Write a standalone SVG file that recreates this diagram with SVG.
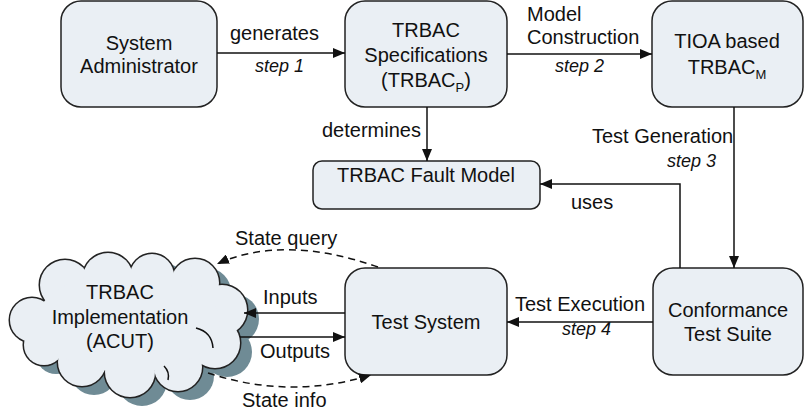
<svg xmlns="http://www.w3.org/2000/svg" width="805" height="415" viewBox="0 0 805 415">
<style>
.box{fill:#eaeff4;stroke:#222;stroke-width:1.5}
.t{font-family:"Liberation Sans",Arial,sans-serif;font-size:20px;fill:#111}
.s{font-family:"Liberation Sans",Arial,sans-serif;font-size:18px;font-style:italic;fill:#111}
.m{text-anchor:middle}
.ln{fill:none;stroke:#111;stroke-width:1.5}
.dash{fill:none;stroke:#111;stroke-width:1.5;stroke-dasharray:7,5}
.cs{fill:none;stroke:#222;stroke-width:3}
.cf{fill:#eaeff4}
.sh{fill:#6f8b95}
</style>
<defs>
<marker id="ah" viewBox="0 0 12 10" refX="12" refY="5" markerWidth="12" markerHeight="10" markerUnits="userSpaceOnUse" orient="auto">
<path d="M0,0 L12,5 L0,10 z" fill="#111"/>
</marker>
<g id="lobes">
<circle cx="32" cy="320" r="22"/>
<circle cx="65" cy="285" r="25"/>
<circle cx="108" cy="278" r="25"/>
<circle cx="152" cy="276" r="22"/>
<circle cx="195" cy="283" r="24"/>
<circle cx="222" cy="310" r="25"/>
<circle cx="215" cy="343" r="25"/>
<circle cx="178" cy="367" r="24"/>
<circle cx="130" cy="372" r="25"/>
<circle cx="82" cy="362" r="24"/>
<circle cx="44" cy="345" r="20"/>
<ellipse cx="128" cy="322" rx="92" ry="50"/>
</g>
</defs>

<g id="cloud">
<use href="#lobes" class="sh" transform="translate(12,9)"/>
<use href="#lobes" class="cs"/>
<use href="#lobes" class="cf"/>
<path class="ln" d="M196,328 Q212,332 213,348 M164,366 Q170,372 168,380" stroke-width="1.2"/>
<text class="t m" x="120" y="299">TRBAC</text>
<text class="t m" x="120" y="324">Implementation</text>
<text class="t m" x="120" y="348">(ACUT)</text>
</g>

<g id="sysadmin">
<rect class="box" x="61" y="1" width="156" height="106" rx="20"/>
<text class="t m" x="139" y="50">System</text>
<text class="t m" x="139" y="73">Administrator</text>
</g>

<g id="spec">
<rect class="box" x="345" y="1" width="162" height="106" rx="20"/>
<text class="t m" x="426" y="37">TRBAC</text>
<text class="t m" x="426" y="62">Specifications</text>
<text class="t m" x="426" y="87">(TRBAC<tspan font-size="13" dy="5">P</tspan><tspan dy="-5">)</tspan></text>
</g>

<g id="tioa">
<rect class="box" x="652" y="1" width="151" height="106" rx="20"/>
<text class="t m" x="727" y="48">TIOA based</text>
<text class="t m" x="727" y="74">TRBAC<tspan font-size="13" dy="5">M</tspan></text>
</g>

<g id="faultmodel">
<rect class="box" x="313" y="161" width="227" height="48" rx="9"/>
<text class="t m" x="426" y="182">TRBAC Fault Model</text>
</g>

<g id="conformance">
<rect class="box" x="653" y="268" width="150" height="107" rx="20"/>
<text class="t m" x="728" y="317">Conformance</text>
<text class="t m" x="728" y="341">Test Suite</text>
</g>

<g id="testsystem">
<rect class="box" x="345" y="268" width="162" height="107" rx="20"/>
<text class="t m" x="426" y="329">Test System</text>
</g>

<g id="connectors">
<line class="ln" x1="217" y1="53" x2="345" y2="53" marker-end="url(#ah)"/>
<line class="ln" x1="507" y1="54" x2="652" y2="54" marker-end="url(#ah)"/>
<line class="ln" x1="427" y1="107" x2="427" y2="161" marker-end="url(#ah)"/>
<line class="ln" x1="734" y1="107" x2="734" y2="268" marker-end="url(#ah)"/>
<polyline class="ln" points="680,268 680,184 540,184" marker-end="url(#ah)"/>
<line class="ln" x1="653" y1="322" x2="507" y2="322" marker-end="url(#ah)"/>
<line class="ln" x1="345" y1="313" x2="244" y2="313" marker-end="url(#ah)"/>
<line class="ln" x1="240" y1="337" x2="345" y2="337" marker-end="url(#ah)"/>
<path class="dash" d="M378,267 Q283,234 217,264" marker-end="url(#ah)"/>
<path class="dash" d="M208,373 Q290,400 371,375" marker-end="url(#ah)"/>
<text class="t" x="230" y="40">generates</text>
<text class="s" x="255" y="72">step 1</text>
<text class="t" x="527" y="21">Model</text>
<text class="t" x="527" y="44">Construction</text>
<text class="s" x="555" y="72">step 2</text>
<text class="t" x="322" y="137">determines</text>
<text class="t" x="592" y="143">Test Generation</text>
<text class="s" x="667" y="167">step 3</text>
<text class="t" x="571" y="209">uses</text>
<text class="t" x="515" y="311">Test Execution</text>
<text class="s" x="562" y="335">step 4</text>
<text class="t" x="235" y="245">State query</text>
<text class="t" x="263" y="304">Inputs</text>
<text class="t" x="260" y="358">Outputs</text>
<text class="t" x="242" y="407">State info</text>
</g>
</svg>
